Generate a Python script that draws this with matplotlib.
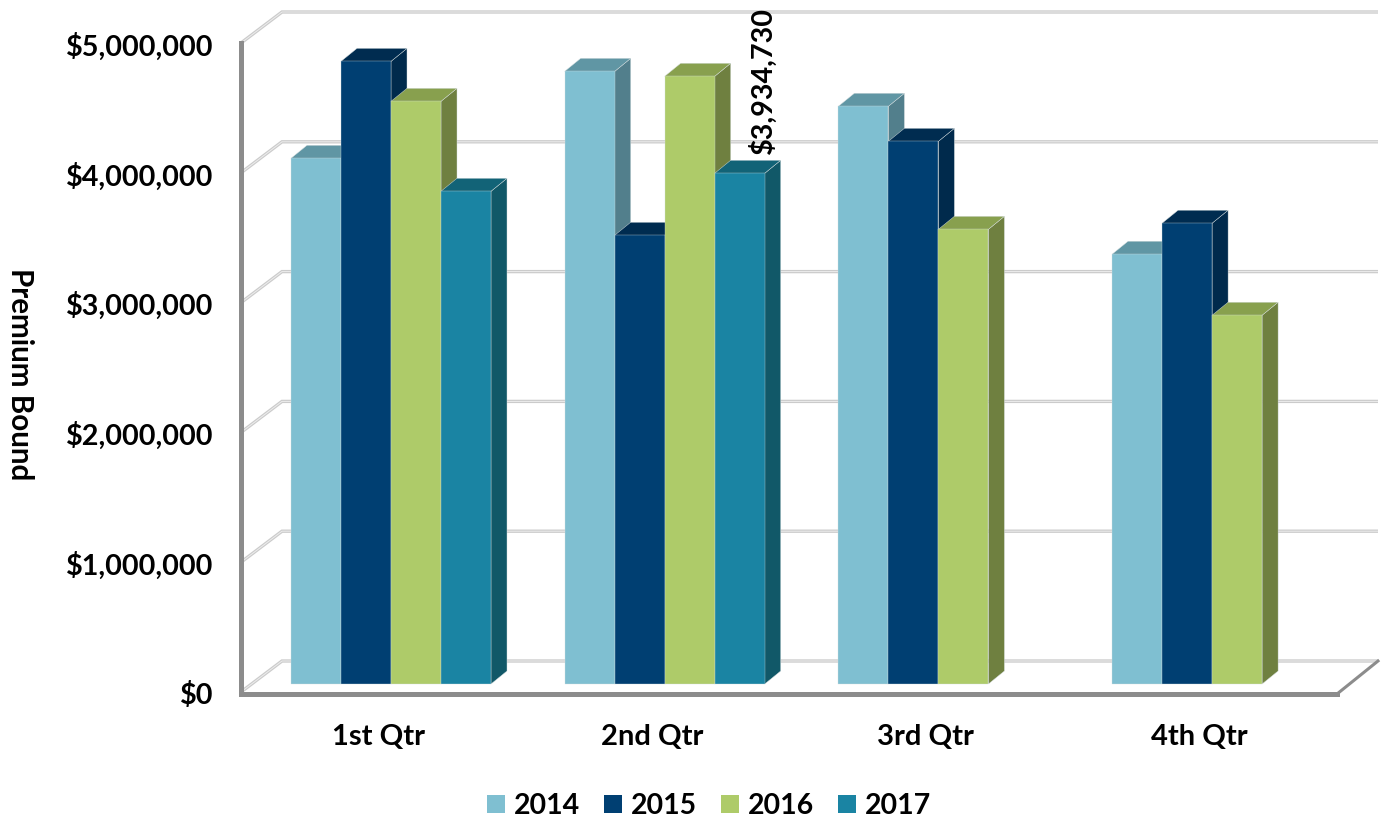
import matplotlib
matplotlib.use("Agg")
import matplotlib.pyplot as plt
from matplotlib.patches import Polygon, Patch
from matplotlib.transforms import Affine2D

plt.rcParams['font.family'] = ['Lato', 'DejaVu Sans']

quarters = ["1st Qtr", "2nd Qtr", "3rd Qtr", "4th Qtr"]
years = ["2014", "2015", "2016", "2017"]
v2014 = [4050000, 4720000, 4451000, 3311000]
v2015 = [4797000, 3457000, 4181000, 3550000]
v2016 = [4489000, 4682000, 3503000, 2841000]
v2017 = [3796000, 3934730, None, None]
series = [v2014, v2015, v2016, v2017]
front = ["#7FBFD1", "#003F72", "#AECB69", "#1A84A3"]
top = ["#6096A4", "#002C50", "#88A04E", "#126377"]
side = ["#527F8C", "#002A4C", "#6F8040", "#115868"]
yticks = [0, 1000000, 2000000, 3000000, 4000000, 5000000]

W, H = 1385, 819
fig = plt.figure(figsize=(W / 100, H / 100), dpi=100)
L, R, T, B = 241, 1337, 43, 692
ax = fig.add_axes([L / W, 1 - B / H, (R - L) / W, (B - T) / H])

px_x = 273.7            # pixels per category
px_y = (B - T) / 5e6    # pixels per dollar
c0 = 391
ax.set_xlim((L - c0) / px_x, (R - c0) / px_x)
ax.set_ylim(0, 5000000)

# back wall and floor
wx, wy = 41 / px_x, 31 / px_y
x0, x1 = ax.get_xlim()
for t in yticks:
    ax.plot([x0, x0 + wx, x1 + wx], [t, t + wy, t + wy], color="#CBCBCB", lw=2.4,
            clip_on=False, zorder=1, solid_joinstyle="miter", solid_capstyle="butt")
    ax.plot([x0, x0 + wx, x1 + wx], [t, t + wy, t + wy], color="#EDEDED", lw=0.7,
            clip_on=False, zorder=1.1, solid_joinstyle="miter", solid_capstyle="butt")
ax.plot([x1, x1 + wx], [-2 / px_y, wy], color="#8C8C8C", lw=2.2, clip_on=False, zorder=1.2)

# bars with depth
bw = 50 / px_x
dx, dy = 16 / px_x, 13 / px_y
tr = ax.transData + Affine2D().translate(0, 8)
edge = "#D6DEDF"
z = 3
for q in range(len(quarters)):
    for s, vals in enumerate(series):
        v = vals[q]
        if v is None:
            continue
        x = q + (s - 2) * bw
        ax.bar(x, v, bw, align="edge", color=front[s], edgecolor=edge, linewidth=0.25,
               transform=tr, zorder=z + 0.2, clip_on=False)
        ax.add_patch(Polygon([(x + bw, 0), (x + bw + dx, dy), (x + bw + dx, v + dy), (x + bw, v)],
                             closed=True, fc=side[s], ec=edge, lw=0.3, transform=tr, zorder=z, clip_on=False))
        ax.add_patch(Polygon([(x, v), (x + dx, v + dy), (x + bw + dx, v + dy), (x + bw, v)],
                             closed=True, fc=top[s], ec=edge, lw=0.3, transform=tr, zorder=z + 0.1, clip_on=False))
        z += 1

# data label
ax.annotate("$3,934,730", (1 + 1 * bw + bw / 2, v2017[1]), xycoords=tr, xytext=(23, 19),
            textcoords="offset pixels", rotation=90, ha="center", va="bottom",
            fontsize=20.7, fontweight="bold", color="black", zorder=200, annotation_clip=False)

# axes
for sp in ("top", "right"):
    ax.spines[sp].set_visible(False)
for sp in ("left", "bottom"):
    ax.spines[sp].set_color("#8C8C8C")
    ax.spines[sp].set_linewidth(3.6)
    ax.spines[sp].set_zorder(2)
ax.spines["bottom"].set_position(("outward", 1.5))
ax.patch.set_visible(False)
ax.set_yticks(yticks, [f"${t:,.0f}" for t in yticks])
ax.set_xticks(range(len(quarters)), quarters)
ax.tick_params(axis="y", length=0, pad=20)
ax.tick_params(axis="x", length=0, pad=21.5)
for lab in ax.get_yticklabels() + ax.get_xticklabels():
    lab.set_fontweight("bold")
for lab in ax.get_yticklabels():
    lab.set_fontsize(20.7)
    lab.set_transform(lab.get_transform() + Affine2D().translate(0, -1))
for lab in ax.get_xticklabels():
    lab.set_fontsize(21)
    lab.set_transform(lab.get_transform() + Affine2D().translate(-13, 0))
fig.text(20 / W, 1 - 374 / H, "Premium Bound", rotation=270, ha="center", va="center",
         fontsize=21.3, fontweight="bold")

# legend
handles = [Patch(fc=c, ec="none", label=y) for c, y in zip(front, years)]
fig.legend(handles=handles, ncol=4, loc="center", bbox_to_anchor=(709 / W, 1 - 806 / H),
           frameon=False, prop=dict(weight="bold", size=20.5),
           handlelength=0.63, handleheight=0.63, handletextpad=0.32, columnspacing=0.83,
           borderpad=0, borderaxespad=0)

fig.savefig("out.png", dpi=100)
